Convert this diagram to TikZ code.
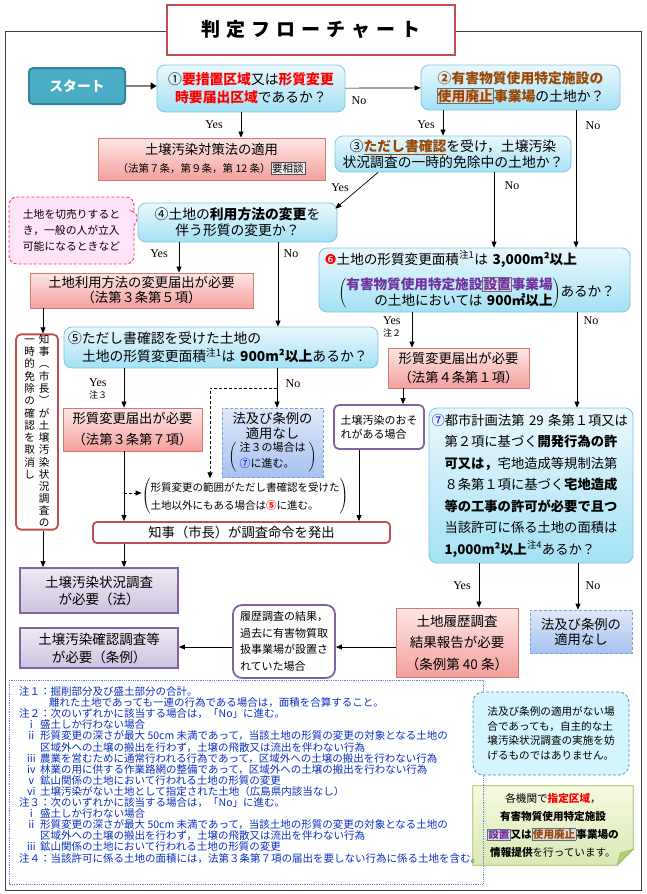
\documentclass[tikz,border=0pt]{standalone}
\usepackage{fontspec}
\setmainfont{Noto Sans CJK JP}
\newfontfamily\yesfont{Liberation Serif}
\newfontfamily\dejavu{DejaVu Sans}
\usetikzlibrary{arrows.meta,shapes.callouts,backgrounds}

\definecolor{qline}{HTML}{7FC6DE}
\definecolor{qtop}{HTML}{EAF8FD}
\definecolor{qbot}{HTML}{A3E1F5}
\definecolor{lawline}{HTML}{D47A72}
\definecolor{lawtop}{HTML}{FDE6E5}
\definecolor{lawbot}{HTML}{F4A09C}
\definecolor{naline}{HTML}{7EA2D8}
\definecolor{natop}{HTML}{DFE9F8}
\definecolor{nabot}{HTML}{A6C2F0}
\definecolor{svline}{HTML}{8064A2}
\definecolor{svtop}{HTML}{EEE9F4}
\definecolor{svbot}{HTML}{CEC2E0}
\definecolor{ordline}{HTML}{C0504D}
\definecolor{startfill}{HTML}{4BACC6}
\definecolor{startline}{HTML}{31859C}
\definecolor{brownc}{HTML}{984806}
\definecolor{purpc}{HTML}{7030A0}
\definecolor{hlline}{HTML}{5F6F7F}
\definecolor{hlfill}{HTML}{DDDDDD}
\definecolor{noteblue}{HTML}{0A2FBF}
\definecolor{callfill}{HTML}{FFE3FA}
\definecolor{callline}{HTML}{FF3355}
\definecolor{remfill}{HTML}{D3F5FD}
\definecolor{remline}{HTML}{5A87BD}
\definecolor{infotop}{HTML}{F6FADF}
\definecolor{infobot}{HTML}{D9E8B4}
\definecolor{infoline}{HTML}{9BBB59}

% font sizes
\newcommand\fntq{\fontsize{13.8}{18}\selectfont}
\newcommand\fntm{\fontsize{13.3}{15}\selectfont}
\newcommand\tsp{\hspace{6pt}}
% highlighted words
\newcommand\hlbox[2]{{\setlength\fboxsep{0.5pt}\setlength\fboxrule{0.6pt}\fcolorbox{hlline}{hlfill}{\color{#1}\bfseries #2}}}
\newcommand\kbox[1]{{\setlength\fboxsep{1pt}\setlength\fboxrule{0.6pt}\fcolorbox{black!70}{black!5}{#1}}}
\newcommand\noteitem[2]{\hspace*{7pt}\makebox[14pt][l]{#1}#2}

\begin{document}
\begin{tikzpicture}[x=1pt,y=-1pt,
    qbox/.style={draw=qline, line width=0.8pt, rounded corners=8pt, top color=qtop, bottom color=qbot, align=center, inner sep=1pt, font=\fntq},
    lawbox/.style={draw=lawline, line width=0.8pt, top color=lawtop, bottom color=lawbot, align=center, inner sep=1pt, font=\fntm},
    noapply/.style={draw=naline, densely dashed, line width=0.6pt, top color=natop, bottom color=nabot, align=center, inner sep=1pt, font=\fntm},
    survbox/.style={draw=svline, line width=1.8pt, top color=svtop, bottom color=svbot, align=center, inner sep=1pt},
    condbox/.style={draw=svline, line width=1.8pt, fill=white, rounded corners=5pt, align=left, inner sep=1pt},
    orderbox/.style={draw=ordline, line width=1.8pt, fill=white, rounded corners=4pt, inner sep=1pt},
    arr/.style={-{Triangle[length=6pt,width=5pt]}, line width=0.7pt},
    darr/.style={arr, densely dashed},
    startarr/.style={-{Triangle[length=6pt,width=7pt,color=black]}, line width=2.4pt, draw=black!50},
    lbl/.style={font=\yesfont\fontsize{12}{13}\selectfont, inner sep=0pt, align=left}]
  \useasboundingbox (0,0) rectangle (646,894);

  % frame and title
  \draw[line width=1pt, black!75] (5,31) rectangle (641,890);
  \node[draw=ordline, line width=2pt, fill=white, minimum width=288pt, minimum height=50pt, font=\fontsize{19}{22}\selectfont\bfseries] (title) at (311,29.5) {判\tsp 定\tsp フ\tsp ロ\tsp ー\tsp チ\tsp ャ\tsp ー\tsp ト};

  % top row
  \node[fill=startfill, draw=startline, line width=2pt, rounded corners=4pt, text=white, font=\fntq\bfseries, minimum width=96pt, minimum height=36pt] (start) at (77,86) {スタート};
  \node[qbox, minimum width=188pt, minimum height=47pt] (q1) at (251,88.5) {①{\color{red}\bfseries 要措置区域}又は{\color{red}\bfseries 形質変更}\\{\color{red}\bfseries 時要届出区域}であるか？};
  \node[qbox, minimum width=199pt, minimum height=45pt] (q2) at (520.5,87.5) {{\color{brownc}\bfseries ②有害物質使用特定施設の}\\\hlbox{brownc}{使用廃止}{\color{brownc}\bfseries 事業場}の土地か？};

  \node[lawbox, minimum width=227pt, minimum height=42pt, font=\fontsize{13.3}{18}\selectfont] (law1) at (211.5,159) {土壌汚染対策法の適用\\{\fontsize{10.5}{12}\selectfont （法第７条，第９条，第~12~条）\kbox{要相談}}};
  \node[qbox, minimum width=236pt, minimum height=36pt, font=\fontsize{13.8}{16}\selectfont] (q3) at (453,154) {③{\color{brownc}\bfseries\underline{ただし書確認}}を受け，土壌汚染\\状況調査の一時的免除中の土地か？};

  % callout
  \node[rectangle callout, callout absolute pointer={(140,214)}, callout pointer width=14pt, draw=callline, densely dashed, line width=0.9pt, fill=callfill, rounded corners=8pt, minimum width=125pt, minimum height=67pt, align=left, font=\fontsize{10.8}{16}\selectfont] (tip) at (71.5,230.5) {土地を切売りすると\\き，一般の人が立入\\可能になるときなど};
  \node[qbox, minimum width=199pt, minimum height=39pt, font=\fontsize{13.8}{16}\selectfont] (q4) at (237.5,222.5) {④土地の{\bfseries 利用方法の変更}を\\伴う形質の変更か？};

  \node[lawbox, minimum width=223pt, minimum height=35pt] (law2) at (141.5,290.5) {土地利用方法の変更届出が必要\\（法第３条第５項）};
  \node[qbox, minimum width=311pt, minimum height=64pt, align=left, text width=300pt, font=\fontsize{13.6}{15}\selectfont] (q6) at (474.5,280) {{\dejavu\color{red}❻}土地の形質変更面積\textsuperscript{注1}は {\bfseries 3,000m²以上}\\[9pt]\hspace*{14pt}{\renewcommand\arraystretch{0.85}$\left(\begin{tabular}{@{}r@{}}{\color{purpc}\bfseries 有害物質使用特定施設\hlbox{purpc}{設置}事業場}\\の土地においては {\bfseries 900㎡以上}\end{tabular}\right)$}あるか？};

  \node[qbox, minimum width=314pt, minimum height=41pt, align=left, text width=306pt] (q5) at (221,347.5) {⑤ただし書確認を受けた土地の\\\hspace*{14pt}土地の形質変更面積\textsuperscript{注1}は {\bfseries 900m²以上}あるか？};
  \node[lawbox, minimum width=141pt, minimum height=40pt, font=\fontsize{13.3}{19}\selectfont] (law3) at (458.5,368) {形質変更届出が必要\\（法第４条第１項）};

  % middle part
  \node[orderbox, rounded corners=5pt, minimum width=42pt, minimum height=195pt, inner sep=0pt, font=\fontsize{10.6}{11.3}\selectfont] (cancel) at (37,432) {\begin{tabular}{@{}c@{\hspace{4pt}}c@{}}一&知\\時&事\\的&︵\\免&市\\除&長\\の&︶\\確&が\\認&土\\を&壌\\取&汚\\消&染\\し&状\\&況\\&調\\&査\\&の\end{tabular}};
  \node[lawbox, minimum width=139pt, minimum height=43pt, font=\fontsize{13.3}{21}\selectfont] (law4) at (132.5,429.5) {形質変更届出が必要\\（法第３条第７項）};
  \node[noapply, minimum width=101pt, minimum height=69pt] (none1) at (272.5,442.5) {法及び条例の\\適用なし\\{\fontsize{11}{16}\selectfont$\left(\begin{tabular}{@{\hspace{3pt}}l@{\hspace{3pt}}}注３の場合は\\{\color{blue}⑦}に進む。\end{tabular}\right)$}};
  \node[condbox, minimum width=90pt, minimum height=44pt, font=\fontsize{11}{14}\selectfont] (risk) at (379,427) {土壌汚染のおそ\\れがある場合};
  \node[qbox, minimum width=204pt, minimum height=155pt, align=left, text width=199pt, font=\fontsize{13.3}{21.5}\selectfont] (q7) at (531,485.5) {{\color{blue}⑦}都市計画法第~29~条第１項又は\\\hspace*{13pt}第２項に基づく{\bfseries 開発行為の許}\\\hspace*{13pt}{\bfseries 可又は，}宅地造成等規制法第\\\hspace*{13pt}８条第１項に基づく{\bfseries 宅地造成}\\\hspace*{13pt}{\bfseries 等の工事の許可が必要で且つ}\\\hspace*{13pt}当該許可に係る土地の面積は\\\hspace*{13pt}{\bfseries 1,000m²以上}\textsuperscript{注4}あるか？};
  \node[font=\fontsize{10.5}{18}\selectfont, inner sep=0pt] (note5) at (245,496.5) {$\left(\begin{tabular}{@{}l@{}}形質変更の範囲がただし書確認を受けた\\土地以外にもある場合は{\color{red}\bfseries ⑤}に進む。\end{tabular}\right)$};
  \node[orderbox, minimum width=297pt, minimum height=21pt, font=\fntm] (order) at (241.5,532.5) {知事（市長）が調査命令を発出};

  % lower part
  \node[survbox, minimum width=158pt, minimum height=45pt, font=\fontsize{13.5}{17}\selectfont] (survey) at (99,590.5) {土壌汚染状況調査\\が必要（法）};
  \node[survbox, minimum width=158pt, minimum height=40pt, font=\fontsize{13.5}{18}\selectfont] (confirm) at (99,648) {土壌汚染確認調査等\\が必要（条例）};
  \node[condbox, rounded corners=9pt, minimum width=102pt, minimum height=73pt, font=\fontsize{11}{16.6}\selectfont] (history) at (284,641.5) {履歴調査の結果，\\過去に有害物質取\\扱事業場が設置さ\\れていた場合};
  \node[lawbox, minimum width=122pt, minimum height=69pt, font=\fontsize{13.5}{21.5}\selectfont] (report) at (457,642.5) {土地履歴調査\\結果報告が必要\\（条例第~40~条）};
  \node[noapply, minimum width=102pt, minimum height=43pt] (none2) at (581,631.5) {法及び条例の\\適用なし};

  % notes
  \draw[noteblue!60, densely dotted, line width=0.8pt] (9,680) rectangle (483,884);
  \node[anchor=north west, inner sep=0pt, align=left, text=noteblue, font=\fontsize{10.5}{11.1}\selectfont] (notes) at (19,686.5) {注１：掘削部分及び盛土部分の合計。\\
\hspace*{30pt}離れた土地であっても一連の行為である場合は，面積を合算すること。\\
注２：次のいずれかに該当する場合は，「No」に進む。\\
\noteitem{ⅰ}{盛土しか行わない場合}\\
\noteitem{ⅱ}{形質変更の深さが最大 50cm 未満であって，当該土地の形質の変更の対象となる土地の}\\
\hspace*{21pt}区域外への土壌の搬出を行わず，土壌の飛散又は流出を伴わない行為\\
\noteitem{ⅲ}{農業を営むために通常行われる行為であって，区域外への土壌の搬出を行わない行為}\\
\noteitem{ⅳ}{林業の用に供する作業路網の整備であって，区域外への土壌の搬出を行わない行為}\\
\noteitem{ⅴ}{鉱山関係の土地において行われる土地の形質の変更}\\
\noteitem{ⅵ}{土壌汚染がない土地として指定された土地（広島県内該当なし）}\\
注３：次のいずれかに該当する場合は，「No」に進む。\\
\noteitem{ⅰ}{盛土しか行わない場合}\\
\noteitem{ⅱ}{形質変更の深さが最大 50cm 未満であって，当該土地の形質の変更の対象となる土地の}\\
\hspace*{21pt}区域外への土壌の搬出を行わず，土壌の飛散又は流出を伴わない行為\\
\noteitem{ⅲ}{鉱山関係の土地において行われる土地の形質の変更}\\
注４：当該許可に係る土地の面積には，法第３条第７項の届出を要しない行為に係る土地を含む。};

  \node[draw=remline, densely dashed, line width=0.8pt, fill=remfill, rounded corners=10pt, minimum width=156pt, minimum height=83pt, align=left, font=\fontsize{10.6}{14.7}\selectfont] (remark) at (551,733.5) {法及び条例の適用がない場\\合であっても，自主的な土\\壌汚染状況調査の実施を妨\\げるものではありません。};
  \node[minimum width=160pt, minimum height=79pt, align=center, font=\fontsize{10.6}{18}\selectfont] (info) at (553,825.5) {各機関で{\color{red}\bfseries 指定区域}，\\{\bfseries 有害物質使用特定施設}\\\hlbox{purpc}{設置}{\bfseries 又は}\hlbox{brownc}{使用廃止}{\bfseries 事業場の}\\{\bfseries 情報提供}を行っています。};
  \begin{scope}[on background layer]
    \shade[top color=infotop, bottom color=infobot, draw=infoline, line width=0.8pt] (info.north west) -- (info.north east) -- ([yshift=16pt]info.south east) -- ([xshift=-16pt]info.south east) -- (info.south west) -- cycle;
    \filldraw[fill=infoline!75, draw=infoline, line width=0.6pt] ([yshift=16pt]info.south east) -- ([xshift=-16pt]info.south east) -- ([xshift=-13pt,yshift=12pt]info.south east) -- cycle;
  \end{scope}

  % Yes / No labels
  \node[lbl] (no1) at (359,101) {No};
  \node[lbl] (yes1) at (214,125) {Yes};
  \node[lbl] (yes2) at (426,125) {Yes};
  \node[lbl] (no2) at (593,126) {No};
  \node[lbl] (yes3) at (340,188) {Yes};
  \node[lbl] (no3) at (512,186) {No};
  \node[lbl] (yes4) at (159,254) {Yes};
  \node[lbl] (no4) at (291,254) {No};
  \node[lbl, anchor=west] (yes6) at (383,327) {Yes\\[-1pt]{\normalfont\fontsize{9}{10}\selectfont 注２}};
  \node[lbl] (no6) at (591,321) {No};
  \node[lbl, anchor=west] (yes5) at (89,389) {Yes\\[-1pt]{\normalfont\fontsize{9}{10}\selectfont 注３}};
  \node[lbl] (no5) at (293,384) {No};
  \node[lbl] (yes7) at (462,586) {Yes};
  \node[lbl] (no7) at (593,586) {No};

  % connectors
  \draw[startarr] (start) -- (start -| q1.west);
  \draw[arr] (q1) -- (q2);
  \draw[arr] ([xshift=-10pt]q1.south) -- ([xshift=-10pt]q1.south |- law1.north);
  \draw[arr] ([xshift=-77.5pt]q2.south) -- ([xshift=-77.5pt]q2.south |- q3.north);
  \draw[arr] ([xshift=55.5pt]q2.south) -- ([xshift=55.5pt]q2.south |- q6.north);
  \draw[arr] ([xshift=-75pt]q3.south) -- ([xshift=-2pt,yshift=-6pt]q4.north east);
  \draw[arr] ([xshift=41pt]q3.south) -- ([xshift=41pt]q3.south |- q6.north);
  \draw[arr] ([xshift=-58.5pt]q4.south) -- ([xshift=-58.5pt]q4.south |- law2.north);
  \draw[arr] ([xshift=40.5pt]q4.south) -- ([xshift=40.5pt]q4.south |- q5.north);
  \draw[arr] ([xshift=-98.5pt]law2.south) -- ([xshift=-98.5pt]law2.south |- cancel.north);
  \draw[arr] ([xshift=-97pt]q5.south) -- ([xshift=-97pt]q5.south |- law4.north);
  \draw[arr] ([xshift=56pt]q5.south) -- ([xshift=56pt]q5.south |- none1.north);
  \draw[darr] ([xshift=56pt,yshift=-20pt]q5.south) -| ([xshift=-35pt]note5.north);
  \draw[arr] ([xshift=-8.5pt]law4.south) -- ([xshift=-8.5pt]law4.south |- order.north);
  \coordinate (brk) at (124,493);
  \draw[darr] (brk) -- (brk -| note5.west);
  \draw[arr] ([xshift=-55.5pt]law3.south) -- ([xshift=-55.5pt]law3.south |- risk.north);
  \draw[arr] ([xshift=-20pt]risk.south) -- ([xshift=-20pt]risk.south |- order.north);
  \draw[arr] ([xshift=-62.5pt]q6.south) -- ([xshift=-62.5pt]q6.south |- law3.north);
  \draw[arr] ([xshift=102.5pt]q6.south) -- ([xshift=102.5pt]q6.south |- q7.north);
  \draw[arr] ([xshift=6pt]cancel.south) -- ([xshift=6pt]cancel.south |- survey.north);
  \draw[arr] ([xshift=-117.5pt]order.south) -- ([xshift=-117.5pt]order.south |- survey.north);
  \draw[arr] ([xshift=-52pt]q7.south) -- ([xshift=-52pt]q7.south |- report.north);
  \draw[arr] ([xshift=47pt]q7.south) -- ([xshift=47pt]q7.south |- none2.north);
  \draw[arr] ([yshift=-4.5pt]report.west) -- ([yshift=-4.5pt]report.west -| history.east);
  \draw[arr] ([yshift=-5.5pt]history.west) -- ([yshift=-5.5pt]history.west -| confirm.east);
\end{tikzpicture}
\end{document}
